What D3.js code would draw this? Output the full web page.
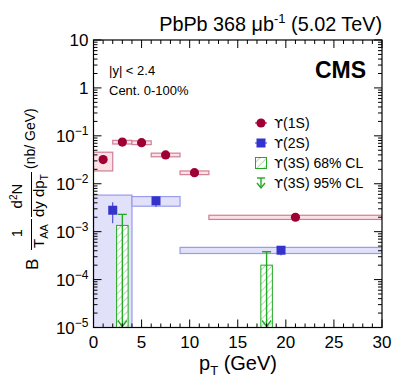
<!DOCTYPE html>
<html>
<head>
<meta charset="utf-8">
<script src="https://cdn.jsdelivr.net/npm/d3@7"></script>
<style>
  body { margin: 0; background: #fff; }
  text { font-family: "Liberation Sans", Arial, Helvetica, sans-serif; }
  .ups { font-family: "DejaVu Sans", sans-serif; }
</style>
</head>
<body>
<div id="chart"></div>
<script>
const w = 407;
const h = 391;

// Upsilon(1S)
const pt1S = [1, 3, 5, 7.5, 10.5, 21];
const lo1S = [0, 2, 4, 6, 9, 12];
const hi1S = [2, 4, 6, 9, 12, 30];
const val1S = [0.032, 0.074, 0.072, 0.040, 0.017, 0.0020];
const syst1S = [0.0135, 0.0065, 0.0065, 0.0035, 0.0015, 0.0002];
const stat1S = [0.002, 0.003, 0.003, 0.002, 0.0008, 0.0001];

// Upsilon(2S)
const pt2S = [2, 6.5, 19.5];
const lo2S = [0, 4, 9];
const hi2S = [4, 9, 30];
const val2S = [0.0028, 0.0044, 0.00041];
const syst2S = [0.003, 0.001, 0.00006];
const stat2S = [0.0013, 0.0011, 0.00009];

// Upsilon(3S) upper limits
const pt3S = [3, 18];
const halfW3S = [0.6, 0.6];
const lim68 = [0.00135, 0.0002];
const lim95 = [0.0023, 0.00038];

const xTicks = [0, 5, 10, 15, 20, 25, 30];
const yTickExp = [1, 0, -1, -2, -3, -4, -5];

const legendLabels = ["(1S)", "(2S)", "(3S) 68% CL", "(3S) 95% CL"];

const red = "#9e0035", redFill = "#fde1e7", redLine = "#cf7f95";
const blue = "#3434cc", blueFill = "#e1e1fa", blueLine = "#9a9aee";
const green = "#22a822";

const m = {left: 93.5, right: 382, top: 40, bottom: 327.5};

const x = d3.scaleLinear().domain([0, 30]).range([m.left, m.right]);
const y = d3.scaleLog().domain([1e-5, 10]).range([m.bottom, m.top]);
const yc = v => v <= 1e-5 ? m.bottom + 50 : y(v);

const svg = d3.select("#chart").append("svg").attr("width", w).attr("height", h);

const defs = svg.append("defs");
defs.append("clipPath").attr("id", "clip")
    .append("rect").attr("x", m.left).attr("y", m.top)
    .attr("width", m.right - m.left).attr("height", m.bottom - m.top);
const pat = defs.append("pattern").attr("id", "hatch")
    .attr("patternUnits", "userSpaceOnUse").attr("width", 5).attr("height", 5)
    .attr("patternTransform", "rotate(45)");
pat.append("rect").attr("width", 5).attr("height", 5).attr("fill", "#fff");
pat.append("line").attr("x1", 0).attr("y1", 0).attr("x2", 0).attr("y2", 5)
    .attr("stroke", "#7cc87c").attr("stroke-width", 1.2);

const plot = svg.append("g").attr("clip-path", "url(#clip)");

// 2S systematic boxes
plot.selectAll(".box2S").data(val2S).enter().append("rect")
    .attr("x", (d, i) => x(lo2S[i]))
    .attr("width", (d, i) => x(hi2S[i]) - x(lo2S[i]))
    .attr("y", (d, i) => y(d + syst2S[i]))
    .attr("height", (d, i) => yc(d - syst2S[i]) - y(d + syst2S[i]))
    .attr("fill", blueFill).attr("stroke", blueLine).attr("stroke-width", 1.2);

// 1S systematic boxes
plot.selectAll(".box1S").data(val1S).enter().append("rect")
    .attr("x", (d, i) => x(lo1S[i]))
    .attr("width", (d, i) => x(hi1S[i]) - x(lo1S[i]))
    .attr("y", (d, i) => y(d + syst1S[i]))
    .attr("height", (d, i) => yc(d - syst1S[i]) - y(d + syst1S[i]))
    .attr("fill", redFill).attr("stroke", redLine).attr("stroke-width", 1.2);

// 3S 68% hatched
plot.selectAll(".box3S").data(lim68).enter().append("rect")
    .attr("x", (d, i) => x(pt3S[i] - halfW3S[i]))
    .attr("width", (d, i) => x(pt3S[i] + halfW3S[i]) - x(pt3S[i] - halfW3S[i]))
    .attr("y", d => y(d))
    .attr("height", d => m.bottom + 5 - y(d))
    .attr("fill", "url(#hatch)").attr("stroke", green).attr("stroke-width", 1);

// 3S 95% arrows
const arr = plot.selectAll(".arr3S").data(lim95).enter().append("g").attr("stroke", green).attr("stroke-width", 1.4).attr("fill", "none");
arr.append("line").attr("x1", (d, i) => x(pt3S[i])).attr("x2", (d, i) => x(pt3S[i]))
    .attr("y1", d => y(d)).attr("y2", m.bottom);
arr.append("line").attr("x1", (d, i) => x(pt3S[i]) - 4.5).attr("x2", (d, i) => x(pt3S[i]) + 4.5)
    .attr("y1", d => y(d)).attr("y2", d => y(d));
arr.append("path").attr("d", (d, i) => {
    const cx = x(pt3S[i]);
    return `M${cx - 4.5},${m.bottom - 7}L${cx},${m.bottom - 1}L${cx + 4.5},${m.bottom - 7}`;
});

// stat error bars
plot.selectAll(".err2S").data(val2S).enter().append("line")
    .attr("x1", (d, i) => x(pt2S[i])).attr("x2", (d, i) => x(pt2S[i]))
    .attr("y1", (d, i) => y(d + stat2S[i])).attr("y2", (d, i) => y(d - stat2S[i]))
    .attr("stroke", blue).attr("stroke-width", 1);
plot.selectAll(".err1S").data(val1S).enter().append("line")
    .attr("x1", (d, i) => x(pt1S[i])).attr("x2", (d, i) => x(pt1S[i]))
    .attr("y1", (d, i) => y(d + stat1S[i])).attr("y2", (d, i) => y(d - stat1S[i]))
    .attr("stroke", red).attr("stroke-width", 1);

// markers
plot.selectAll(".m2S").data(val2S).enter().append("rect")
    .attr("x", (d, i) => x(pt2S[i]) - 4.5).attr("y", d => y(d) - 4.5)
    .attr("width", 9).attr("height", 9).attr("fill", blue);
plot.selectAll(".m1S").data(val1S).enter().append("circle")
    .attr("cx", (d, i) => x(pt1S[i])).attr("cy", d => y(d)).attr("r", 4.6)
    .attr("fill", red);

// frame
svg.append("rect").attr("x", m.left).attr("y", m.top)
    .attr("width", m.right - m.left).attr("height", m.bottom - m.top)
    .attr("fill", "none").attr("stroke", "#000").attr("stroke-width", 1.2);

const ticks = svg.append("g").attr("stroke", "#000").attr("stroke-width", 1);
// x ticks
d3.range(0, 31, 1).forEach(v => {
    const len = v % 5 === 0 ? 8 : 4;
    ticks.append("line").attr("x1", x(v)).attr("x2", x(v)).attr("y1", m.bottom).attr("y2", m.bottom - len);
    ticks.append("line").attr("x1", x(v)).attr("x2", x(v)).attr("y1", m.top).attr("y2", m.top + len);
});
// y ticks
for (let e = -5; e <= 1; e++) {
    for (let k = 1; k <= 9; k++) {
        const v = k * Math.pow(10, e);
        if (v > 10 || v < 1e-5) continue;
        const len = k === 1 ? 8 : 4;
        ticks.append("line").attr("x1", m.left).attr("x2", m.left + len).attr("y1", y(v)).attr("y2", y(v));
        ticks.append("line").attr("x1", m.right).attr("x2", m.right - len).attr("y1", y(v)).attr("y2", y(v));
    }
}

// x tick labels
svg.selectAll(".xl").data(xTicks).enter().append("text")
    .attr("x", d => x(d)).attr("y", m.bottom + 20)
    .attr("text-anchor", "middle").attr("font-size", 17).text(d => d);

// y tick labels
yTickExp.forEach(e => {
    const t = svg.append("text").attr("x", m.left - 5).attr("y", y(Math.pow(10, e)) + 6)
        .attr("text-anchor", "end").attr("font-size", 17);
    if (e === 1) t.text("10");
    else if (e === 0) t.text("1");
    else {
        t.append("tspan").text("10");
        t.append("tspan").attr("dy", -7).attr("font-size", 12).text("\u2212" + (-e));
    }
});

// x title
const xt = svg.append("text").attr("x", 238).attr("y", 370).attr("text-anchor", "middle").attr("font-size", 20);
xt.append("tspan").text("p");
xt.append("tspan").attr("dy", 5).attr("font-size", 13).text("T");
xt.append("tspan").attr("dy", -5).text(" (GeV)");

// y title (rotated)
const yt = svg.append("g").attr("transform", "translate(32,270) rotate(-90)");
yt.append("text").attr("x", 0).attr("y", 6).attr("font-size", 17).text("B");
yt.append("text").attr("x", 37).attr("y", -10).attr("text-anchor", "middle").attr("font-size", 14).text("1");
yt.append("line").attr("x1", 20).attr("x2", 51).attr("y1", -0.5).attr("y2", -0.5).attr("stroke", "#000").attr("stroke-width", 1);
const taa = yt.append("text").attr("x", 22).attr("y", 12).attr("font-size", 15);
taa.append("tspan").text("T");
taa.append("tspan").attr("dy", 4).attr("font-size", 11).text("AA");
const d2n = yt.append("text").attr("x", 74).attr("y", -10).attr("text-anchor", "middle").attr("font-size", 15);
d2n.append("tspan").text("d");
d2n.append("tspan").attr("dy", -5).attr("font-size", 10).text("2");
d2n.append("tspan").attr("dy", 5).text("N");
yt.append("line").attr("x1", 53).attr("x2", 98).attr("y1", -0.5).attr("y2", -0.5).attr("stroke", "#000").attr("stroke-width", 1);
const dy = yt.append("text").attr("x", 53).attr("y", 12).attr("font-size", 15);
dy.append("tspan").text("dy dp");
dy.append("tspan").attr("dy", 4).attr("font-size", 10).text("T");
yt.append("text").attr("x", 101).attr("y", 3).attr("font-size", 14).text("(nb/ GeV)");

// header texts
const ht = svg.append("text").attr("x", m.right).attr("y", 31).attr("text-anchor", "end").attr("font-size", 19.8);
ht.append("tspan").text("PbPb 368 \u03BCb");
ht.append("tspan").attr("dy", -8).attr("font-size", 13).text("-1");
ht.append("tspan").attr("dy", 8).text(" (5.02 TeV)");

svg.append("text").attr("x", 366).attr("y", 78).attr("text-anchor", "end")
    .attr("font-size", 23).attr("font-weight", "bold").text("CMS");
svg.append("text").attr("x", 109).attr("y", 75).attr("font-size", 13).text("|y| < 2.4");
svg.append("text").attr("x", 109).attr("y", 95).attr("font-size", 13).text("Cent. 0-100%");

// legend
const lx = 261, ly0 = 123, lstep = 20;
const lg = svg.append("g");
legendLabels.forEach((lab, i) => {
    const t = lg.append("text").attr("x", lx + 13).attr("y", ly0 + i * lstep + 5).attr("font-size", 14);
    t.append("tspan").attr("class", "ups").attr("font-size", 13).text("\u03D2");
    t.append("tspan").text(lab);
});
lg.append("line").attr("x1", lx - 6).attr("x2", lx + 6).attr("y1", ly0).attr("y2", ly0).attr("stroke", red);
lg.append("circle").attr("cx", lx).attr("cy", ly0).attr("r", 4.6).attr("fill", red);
lg.append("line").attr("x1", lx - 6).attr("x2", lx + 6).attr("y1", ly0 + lstep).attr("y2", ly0 + lstep).attr("stroke", blue);
lg.append("rect").attr("x", lx - 4.5).attr("y", ly0 + lstep - 4.5).attr("width", 9).attr("height", 9).attr("fill", blue);
lg.append("rect").attr("x", lx - 5.5).attr("y", ly0 + 2 * lstep - 5.5).attr("width", 11).attr("height", 11)
    .attr("fill", "url(#hatch)").attr("stroke", green);
const la = lg.append("g").attr("stroke", green).attr("stroke-width", 1.4).attr("fill", "none");
const ay = ly0 + 3 * lstep;
la.append("line").attr("x1", lx - 4).attr("x2", lx + 4).attr("y1", ay - 5).attr("y2", ay - 5);
la.append("line").attr("x1", lx).attr("x2", lx).attr("y1", ay - 5).attr("y2", ay + 5);
la.append("path").attr("d", `M${lx - 4},${ay}L${lx},${ay + 5}L${lx + 4},${ay}`);
</script>
</body>
</html>
